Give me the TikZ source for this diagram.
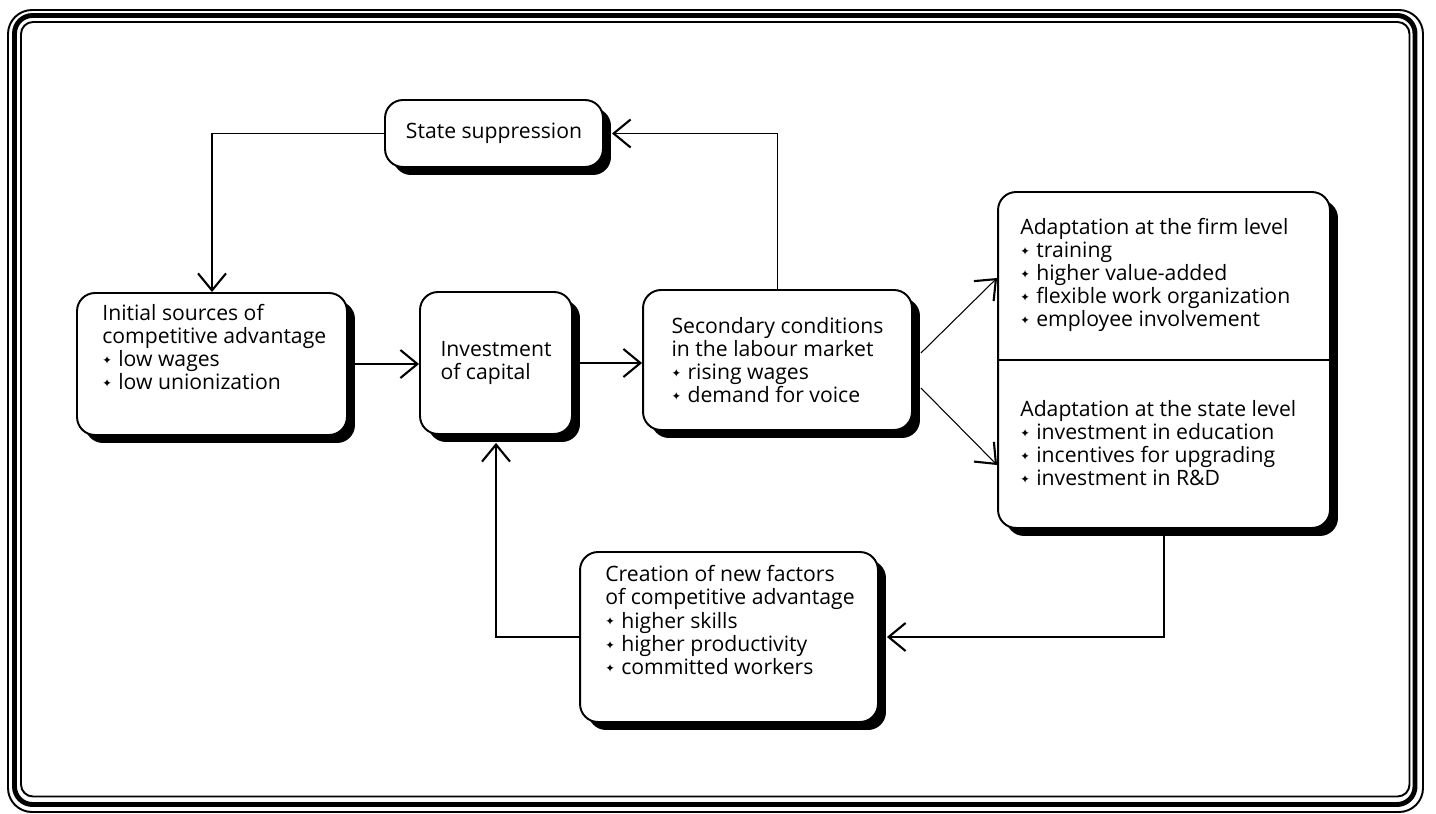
\documentclass[tikz,border=0pt]{standalone}
\usepackage{fontspec}
\setmainfont{Open Sans}
\newfontfamily\symfont{DejaVu Sans}
\usetikzlibrary{arrows.meta,shadows,positioning}

% small four-point star used as bullet
\newcommand{\bul}{\makebox[0.32cm][l]{\raisebox{1.2pt}{\symfont\fontsize{6.5}{6.5}\selectfont ✦}}}

\tikzset{
  card/.style={draw, line width=1.1pt, fill=white, rounded corners=0.36cm, inner sep=0pt,
    drop shadow={shadow xshift=0.16cm, shadow yshift=-0.16cm, fill=black, opacity=1}},
  txt/.style={inner sep=0pt, align=left, anchor=west},
  link/.style={line width=0.6pt, -{Straight Barb[length=0.34cm,width=0.56cm,line width=1.2pt]}},
  toshadow/.style={shorten >=0.16cm}
}

\begin{document}
\begin{tikzpicture}[x=0.02cm, y=-0.02cm, font=\fontsize{12.05}{13.2}\selectfont]
\useasboundingbox (0,0) rectangle (1436,814);

% Frame
\draw[line width=1.1pt, rounded corners=0.48cm] (8,10) rectangle (1423,812);
\draw[line width=2.8pt, rounded corners=0.36cm] (14.5,15.5) rectangle (1415,804.5);
\draw[line width=1.1pt, rounded corners=0.24cm] (21,22) rectangle (1409.5,796.5);

% Boxes
\node[card, minimum width=4.36cm, minimum height=1.34cm] (supp) at (494,133.5) {State suppression};
\node[card, minimum width=5.4cm, minimum height=2.84cm] (init) at (212,364) {};
\node[card, minimum width=3.04cm, minimum height=2.84cm, align=left] (inv) at (496,363) {Investment\\of capital};
\node[card, minimum width=5.38cm, minimum height=2.8cm, align=left] (sec) at (777.5,360)
  {Secondary conditions\\in the labour market\\\bul rising wages\\\bul demand for voice};
\node[card, minimum width=6.64cm, minimum height=6.72cm] (adapt) at (1164,360) {};
\node[card, minimum width=5.96cm, minimum height=3.4cm] (create) at (729,637) {};

% Texts
\node[txt] (inittxt) at (102,347) {Initial sources of\\competitive advantage\\\bul low wages\\\bul low unionization};
\node[txt] (firmtxt) at (1020,275) {Adaptation at the firm level\\\bul training\\\bul higher value-added\\\bul flexible work organization\\\bul employee involvement};
\node[txt] (statetxt) at (1020,443) {Adaptation at the state level\\\bul investment in education\\\bul incentives for upgrading\\\bul investment in R\&D};
\node[txt] (createtxt) at (605,620) {Creation of new factors\\of competitive advantage\\\bul higher skills\\\bul higher productivity\\\bul committed workers};
\draw[line width=1.1pt] (adapt.west) -- (adapt.east);

% Connectors
\draw[link] (supp.west) -| (init.north);
\draw[link] (init.east) -- (init.east -| inv.west);
\draw[link] (inv.east) -- (inv.east -| sec.west);
\draw[link, toshadow] (sec.north) |- (supp.east);
\draw[link] ([shift={(8,-7)}]sec.east) -- ([shift={(0,-82)}]adapt.west);
\draw[link] ([shift={(8,28)}]sec.east) -- ([shift={(0,105)}]adapt.west);
\draw[link, toshadow] (adapt.south) |- (create.east);
\draw[link, toshadow] (create.west) -| (inv.south);
\end{tikzpicture}
\end{document}
